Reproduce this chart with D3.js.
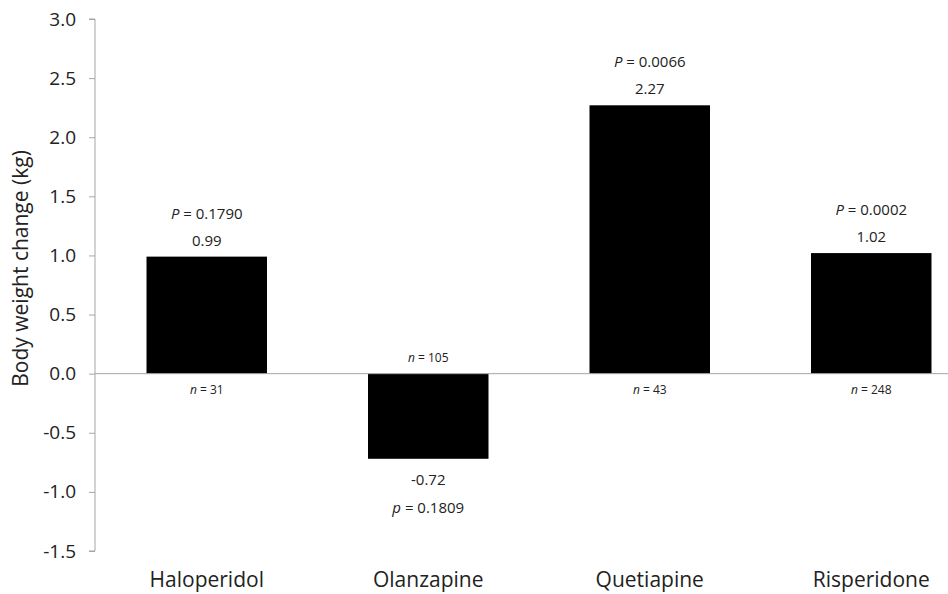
<!DOCTYPE html>
<html>
<head>
<meta charset="utf-8">
<script src="https://cdn.jsdelivr.net/npm/d3@7"></script>
<style>
  body { margin: 0; background: #fff; }
  text { font-family: "Open Sans", sans-serif; fill: #222; }
</style>
</head>
<body>
<div id="chart"></div>
<script>
const drugs = ['Haloperidol', 'Olanzapine', 'Quetiapine', 'Risperidone'];
const changes = [0.99, -0.72, 2.27, 1.02];
const pLabels = ['P = 0.1790', 'p = 0.1809', 'P = 0.0066', 'P = 0.0002'];
const nLabels = ['31', '105', '43', '248'];
const yTicks = [3.0, 2.5, 2.0, 1.5, 1.0, 0.5, 0.0, -0.5, -1.0, -1.5];

const data = drugs.map((d, i) => ({drug: d, value: changes[i], p: pLabels[i], n: nLabels[i]}));

const width = 948, height = 594;
const svg = d3.select('#chart').append('svg').attr('width', width).attr('height', height);

const x = d3.scaleBand().domain(drugs).range([96, 982]).paddingInner(0.456).paddingOuter(0.228);
const y = d3.scaleLinear().domain([-1.5, 3.0]).range([551, 19]);

// y axis
const yAxis = svg.append('g').attr('transform', 'translate(95,0)')
    .call(d3.axisLeft(y).tickValues(yTicks).tickFormat(d3.format('.1f')).tickSize(6).tickPadding(13));
yAxis.select('.domain').attr('stroke', '#a6a6a6').attr('d', `M-6,${y(3)}H0V${y(-1.5)}H-6`);
yAxis.selectAll('.tick line').attr('stroke', '#a6a6a6');
yAxis.selectAll('.tick text').style('font-size', '19px').style('fill', '#222')
    .text(d => d3.format('.1f')(d).replace('−', '-'));

svg.append('text').attr('transform', `translate(28, ${y(0.89)}) rotate(-90)`)
    .attr('text-anchor', 'middle').style('font-size', '21px').text('Body weight change (kg)');

// bars
svg.selectAll('rect.bar').data(data).enter().append('rect').attr('class', 'bar')
    .attr('x', d => x(d.drug)).attr('width', x.bandwidth())
    .attr('y', d => y(Math.max(0, d.value)))
    .attr('height', d => Math.abs(y(d.value) - y(0)))
    .attr('fill', '#000');

// zero line
svg.append('line').attr('x1', 95).attr('x2', width).attr('y1', y(0)).attr('y2', y(0))
    .attr('stroke', '#a6a6a6').attr('stroke-width', 1);

// category labels
svg.selectAll('text.cat').data(data).enter().append('text').attr('class', 'cat')
    .attr('x', d => x(d.drug) + x.bandwidth() / 2).attr('y', 587)
    .attr('text-anchor', 'middle').style('font-size', '21px').text(d => d.drug);

const cx = d => x(d.drug) + x.bandwidth() / 2;

// value labels
svg.selectAll('text.val').data(data).enter().append('text').attr('class', 'val')
    .attr('x', cx).attr('y', d => d.value >= 0 ? y(d.value) - 11 : y(d.value) + 26)
    .attr('text-anchor', 'middle').style('font-size', '15px').text(d => d.value.toFixed(2));

// p labels
const pl = svg.selectAll('text.p').data(data).enter().append('text').attr('class', 'p')
    .attr('x', cx).attr('y', d => d.value >= 0 ? y(d.value) - 38 : y(d.value) + 54)
    .attr('text-anchor', 'middle').style('font-size', '15px');
pl.append('tspan').style('font-style', 'italic').text(d => d.p.slice(0, 1));
pl.append('tspan').text(d => d.p.slice(1));

// n labels
const nl = svg.selectAll('text.n').data(data).enter().append('text').attr('class', 'n')
    .attr('x', cx).attr('y', d => d.value >= 0 ? y(0) + 20 : y(0) - 12)
    .attr('text-anchor', 'middle').style('font-size', '12px');
nl.append('tspan').style('font-style', 'italic').text('n');
nl.append('tspan').text(d => ' = ' + d.n);
</script>
</body>
</html>
